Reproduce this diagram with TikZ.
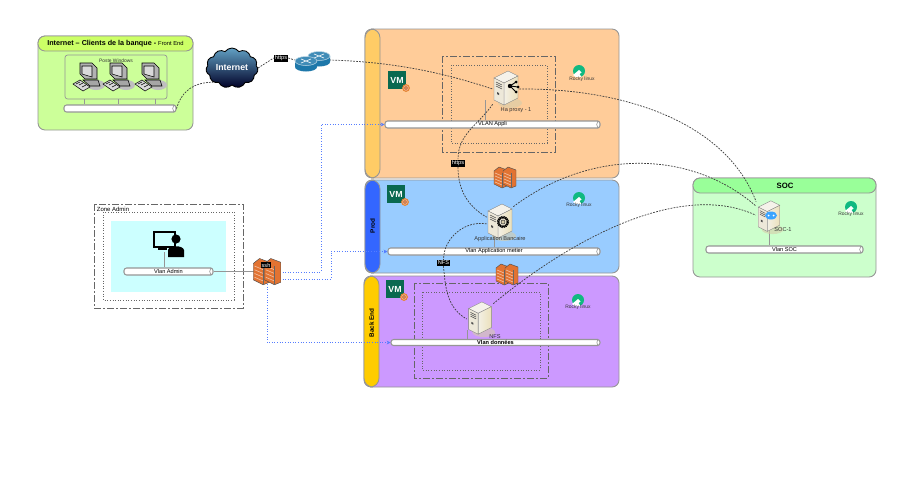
\documentclass[tikz,border=0pt]{standalone}
\usepackage{fontspec}
\setmainfont{Liberation Sans}
\usetikzlibrary{arrows.meta,positioning,shapes.symbols,shapes.geometric}
\definecolor{dkgray}{RGB}{60,60,60}
\definecolor{edgegray}{RGB}{150,150,150}
\definecolor{orangebg}{RGB}{255,204,153}
\definecolor{orangeband}{RGB}{255,204,102}
\definecolor{bluebg}{RGB}{153,204,255}
\definecolor{blueband}{RGB}{51,102,255}
\definecolor{violetbg}{RGB}{204,153,255}
\definecolor{yellowband}{RGB}{255,204,0}
\definecolor{limebg}{RGB}{204,255,153}
\definecolor{limehead}{RGB}{204,255,102}
\definecolor{socbg}{RGB}{204,255,204}
\definecolor{sochead}{RGB}{153,255,153}
\definecolor{adminbg}{RGB}{204,255,255}
\definecolor{vmgreen}{RGB}{10,105,80}
\definecolor{rockygreen}{RGB}{16,185,129}
\definecolor{brick}{RGB}{226,115,50}
\definecolor{linkblue}{RGB}{85,125,255}
\definecolor{routerblue}{RGB}{30,120,170}
\definecolor{boxtan}{RGB}{214,204,170}
\def\ux{0.02cm}
\tikzset{
  zonebox/.style={draw=edgegray, line width=0.5pt, rounded corners=4pt},
  vlanbar/.style={draw=edgegray, fill=white, line width=0.6pt, rounded corners=1.5pt, inner sep=0pt,
    minimum height=7*\ux, font=\fontsize{3.2}{3.6}\selectfont},
  iconbox/.style={inner sep=0pt, minimum width=26*\ux, minimum height=30*\ux},
  smalltxt/.style={inner sep=0pt, font=\fontsize{3.2}{3.6}\selectfont, text=black!80},
  portlabel/.style={fill=black, text=white, inner sep=0.5pt, font=\fontsize{3.2}{3.6}\selectfont},
  vpnlink/.style={dkgray, line width=0.4pt, dash pattern=on 1pt off 0.7pt},
  bluelink/.style={linkblue, line width=0.5pt, densely dotted},
  taplink/.style={edgegray, line width=0.5pt},
  outerframe/.style={draw=black!60, line width=0.5pt, dash pattern=on 4pt off 1.2pt on 1pt off 1.2pt},
  innerframe/.style={draw=black!60, line width=0.5pt, densely dotted},
  pics/srvbox/.style={code={
    \fill[boxtan, opacity=0.6] (4,14) ellipse (12 and 5);
    \draw[black!50, line width=0.2pt, fill=boxtan!25] (-12,-11) -- (2,-18) -- (12,-13) -- (-2,-6) -- cycle;
    \draw[black!50, line width=0.2pt, left color=boxtan!30, right color=boxtan!110!black] (-2,-6) -- (12,-13) -- (12,9) -- (-2,16) -- cycle;
    \draw[black!50, line width=0.2pt, fill=boxtan!45] (-12,-11) -- (-2,-6) -- (-2,16) -- (-12,11) -- cycle;
    \draw[black!70, line width=0.3pt] (-10,-7) -- (-4,-4) (-10,-5) -- (-4,-2) (-10,-3) -- (-4,0);
    \fill[black!70] (-9,3) -- (-7,4) -- (-7,6) -- (-9,5) -- cycle;
  }},
  pics/pcset/.style={code={
    \fill[black!25] (8,8) ellipse (9 and 5);
    \draw[black, line width=0.3pt, fill=black!30] (-8,-14) -- (4,-14) -- (9,-9) -- (9,2) -- (-3,2) -- (-8,-3) -- cycle;
    \draw[black, line width=0.3pt, fill=white!85!black] (-6,-11) -- (4,-11) -- (4,0) -- (-6,-3) -- cycle;
    \draw[black, line width=0.3pt, fill=black!35] (-5,3) -- (10,3) -- (12,9) -- (2,9) -- cycle;
    \draw[black, line width=0.3pt, fill=black!15] (-15,7) -- (-8,3) -- (2,10) -- (-5,14) -- cycle;
    \draw[black, line width=0.35pt] (-12,7) -- (-8,5) (-9,8) -- (-5,6) (-6,10) -- (-2,8);
  }},
  pics/fwall/.style={code={
    \foreach \sx in {0,9}{
      \begin{scope}[shift={(\sx,0)}]
      \draw[black!70, line width=0.25pt, fill=brick] (-11,-6) -- (-6,-10) -- (2,-7) -- (2,9) -- (-3,11) -- (-11,7) -- cycle;
      \foreach \ly in {-3,0,3,6}{
        \draw[brick!45!white, line width=0.35pt] (-10,\ly-1) -- (-3,\ly+2);
      }
      \draw[black!60, line width=0.2pt] (-3,-4) -- (-3,11);
      \end{scope}
    }
  }},
  pics/vmbadge/.style={code={
    \fill[vmgreen] (-9,-9) rectangle (9,9);
    \node[inner sep=0pt, text=white, font=\fontsize{5}{6}\bfseries\selectfont] at (0,0) {VM};
    \draw[brick!90!yellow, fill=brick!60, line width=0.5pt] (9,8) circle (3.4);
    \draw[brick!80!black, line width=0.3pt] (9,8) circle (1.4);
  }},
  pics/rockylogo/.style={code={
    \fill[rockygreen] (0,0) circle (6);
    \fill[white] (-6,4) -- (0,-1) -- (2.5,1.5) -- (0.5,3) -- (2.5,6.2) -- (-3,6.2) -- cycle;
  }},
  pics/routerpair/.style={code={
    \foreach \rx/\ry in {7/-4,-6/1}{
      \fill[routerblue] (\rx-11,\ry) -- (\rx-11,\ry+6) arc[start angle=180, end angle=0, x radius=11, y radius=4.5] -- (\rx+11,\ry) -- cycle;
      \draw[white!70!routerblue, line width=0.3pt, fill=routerblue!85] (\rx,\ry) ellipse (11 and 4.5);
      \draw[white, line width=0.35pt] (\rx-5,\ry-2) -- (\rx+5,\ry+2) (\rx-5,\ry+2) -- (\rx+5,\ry-2);
    }
  }},
}
\begin{document}
\begin{tikzpicture}[x=\ux, y=-\ux]
\useasboundingbox (0,0) rectangle (901,501);
\fill[white] (0,0) rectangle (901,501);

% Front end box
\draw[zonebox, fill=limebg] (38,36) rectangle (193,130);
\draw[zonebox, fill=limehead] (38,51) -- (38,36) -- (193,36) -- (193,51) -- cycle;
\node[inner sep=0pt, font=\fontsize{4.1}{5}\bfseries\selectfont] (ttlfront) at (115.5,43.5)
      {Internet -- Clients de la banque - {\fontsize{3.3}{4}\mdseries\selectfont Front End}};
\draw[draw=edgegray, line width=0.4pt, rounded corners=1.5pt] (65,55) rectangle (167,99);
\node[smalltxt, font=\fontsize{2.8}{3}\selectfont] (ttlposte) at (116,60.5) {Poste Windows};
\node[vlanbar, minimum width=112*\ux] (barfront) at (120,108.5) {};

% Orange zone
\draw[zonebox, fill=orangebg] (365,29) rectangle (619,178);
\draw[zonebox, fill=orangeband, rounded corners=5pt] (365,29) rectangle (380,178);
\draw[outerframe] (442,56) rectangle (555,152);
\draw[innerframe] (451,65) rectangle (547,143);

% Blue zone
\draw[zonebox, fill=bluebg] (365,180) rectangle (619,273);
\draw[zonebox, fill=blueband, rounded corners=5pt] (365,180) rectangle (380,273);
\node[rotate=90, inner sep=0pt, font=\fontsize{3.6}{4}\bfseries\selectfont] (ttlprod) at (372.5,226) {Prod};

% Violet zone
\draw[zonebox, fill=violetbg] (364,276) rectangle (619,387);
\draw[zonebox, fill=yellowband, rounded corners=5pt] (364,276) rectangle (379,387);
\node[rotate=90, inner sep=0pt, font=\fontsize{3.6}{4}\bfseries\selectfont] (ttlback) at (371.5,323) {Back End};
\draw[outerframe] (414,283) rectangle (548,378);
\draw[innerframe] (422,292) rectangle (540,370);

% Admin zone
\draw[outerframe] (94,204) rectangle (243,308);
\draw[innerframe] (103,212) rectangle (234,300);
\fill[adminbg] (111,221) rectangle (226,292);
\node[smalltxt, text=black, font=\fontsize{3.4}{4}\selectfont] (ttladmin) at (113,209) {Zone Admin};

% SOC zone
\draw[zonebox, fill=socbg] (693,178) rectangle (876,277);
\draw[zonebox, fill=sochead] (693,193) -- (693,178) -- (876,178) -- (876,193) -- cycle;
\node[inner sep=0pt, font=\fontsize{4.4}{5}\bfseries\selectfont] (ttlsoc) at (785,185.5) {SOC};

% Bars
\node[vlanbar, minimum width=215*\ux] (barappli) at (492.5,124.5) {VLAN Appli};
\node[vlanbar, minimum width=212*\ux] (barmetier) at (494,251.5) {Vlan Application metier};
\node[vlanbar, minimum width=209*\ux, minimum height=6*\ux, font=\fontsize{3.2}{3.6}\bfseries\selectfont] (bardata) at (495.5,342.5) {Vlan données};
\node[vlanbar, minimum width=89*\ux] (baradmin) at (168.5,271.5) {Vlan Admin};
\node[vlanbar, minimum width=157*\ux] (barsoc) at (784.5,249.5) {Vlan SOC};
\foreach \barname in {barfront,barappli,barmetier,bardata,baradmin,barsoc}{
  \draw[edgegray, line width=0.35pt] ([xshift=-2.5*\ux]\barname.north east) to[bend right=35] ([xshift=-2.5*\ux]\barname.south east);
}

% Icon places
\node[iconbox] (pc1) at (88,77) {};
\node[iconbox] (pc2) at (118,77) {};
\node[iconbox] (pc3) at (150,77) {};
\node[iconbox] (haproxy) at (506,89) {};
\node[iconbox] (appsrv) at (500,222) {};
\node[iconbox] (nfssrv) at (480,319) {};
\node[iconbox] (socsrv) at (769,217) {};
\node[iconbox] (fwadmin) at (267,271) {};
\node[iconbox, minimum width=24*\ux, minimum height=20*\ux] (fwprod) at (505,177) {};
\node[iconbox, minimum width=24*\ux, minimum height=20*\ux] (fwback) at (507,274) {};
\node[iconbox, minimum width=34*\ux, minimum height=14*\ux] (router) at (312,60) {};
\node[cloud, cloud puffs=11, cloud puff arc=110, aspect=1.5, draw=black, line width=0.5pt,
      top color=routerblue!70!white, bottom color=black!85!blue, text=white,
      minimum width=52*\ux, minimum height=40*\ux, inner sep=0pt, font=\fontsize{5}{6}\bfseries\selectfont]
      (internet) at (232,68) {Internet};
\node[iconbox] (adminpost) at (169,245) {};

% Tap coordinates
\coordinate (tappc1) at (84,99);
\coordinate (tappc2) at (118,99);
\coordinate (tappc3) at (155,99);
\coordinate (tapha) at (485,100);
\coordinate (tapapp) at (494,236);
\coordinate (tapnfs) at (467,330);
\coordinate (tapadm) at (164,252);
\coordinate (tapsoc) at (769,230);

% Bar taps
\draw[taplink] (tappc1) -- (tappc1 |- barfront.north);
\draw[taplink] (tappc2) -- (tappc2 |- barfront.north);
\draw[taplink] (tappc3) -- (tappc3 |- barfront.north);
\draw[taplink] (tapha) -- (tapha |- barappli.north);
\draw[taplink] (tapapp) -- (tapapp |- barmetier.north);
\draw[taplink] (tapnfs) -- (tapnfs |- bardata.north);
\draw[taplink] (tapadm) -- (tapadm |- baradmin.north);
\draw[taplink] (tapsoc) -- (tapsoc |- barsoc.north);
\draw[taplink] (baradmin.east) -- (fwadmin.west |- baradmin.east);

% Blue links
\coordinate (fwouta) at (272,272);
\coordinate (fwoutb) at (272,279);
\coordinate (fwoutc) at (267,284);
\draw[bluelink, -{Stealth[length=2.2pt,width=2.2pt]}] (fwouta) -- (321,272) -- (321,124.5) -- (barappli.west);
\draw[bluelink, -{Stealth[length=2.2pt,width=2.2pt]}] (fwoutb) -- (331,279) -- (331,251.5) -- (barmetier.west);
\draw[bluelink, -{Stealth[length=2.2pt,width=2.2pt]}] (fwoutc) -- (267,342.5) -- (bardata.west);

% Port labels
\node[portlabel] (lblweb) at (281,58) {https};
\node[portlabel] (lblapp) at (458,163) {https};
\node[portlabel] (lblnfs) at (443.5,263) {NFS};

% Dotted links
\draw[vpnlink] (barfront.east) .. controls (182,90) and (195,82) .. (internet.south west);
\draw[vpnlink] (internet.east) -- (lblweb.west);
\draw[vpnlink] (lblweb.east) -- (router.west);
\draw[vpnlink] (router.east) .. controls (400,62) and (450,75) .. (haproxy.west);
\draw[vpnlink] (haproxy.east) .. controls (620,88) and (725,120) .. (socsrv.130);
\draw[vpnlink] (haproxy.south west) to[out=-125, in=90] (lblapp.north);
\draw[vpnlink] (lblapp.south) to[out=-90, in=150] (appsrv.160);
\draw[vpnlink] (appsrv.188) to[out=170, in=90] (lblnfs.north);
\draw[vpnlink] (lblnfs.south) to[out=-85, in=150] (nfssrv.west);
\draw[vpnlink] (appsrv.north east) .. controls (590,149) and (690,149) .. (socsrv.140);
\draw[vpnlink] (nfssrv.north east) .. controls (570,240) and (680,180) .. (socsrv.172);

% Icons
\pic at (pc1) {pcset};
\pic at (pc2) {pcset};
\pic at (pc3) {pcset};
\pic at (haproxy) {srvbox};
\pic at (appsrv) {srvbox};
\pic[scale=0.95] at (nfssrv) {srvbox};
\pic[scale=0.9] at (socsrv) {srvbox};
\pic[scale=1.25] at (fwadmin) {fwall};
\pic at (fwprod) {fwall};
\pic at (fwback) {fwall};
\pic at (router) {routerpair};
\pic at (397,80) {vmbadge};
\pic at (396,194) {vmbadge};
\pic at (395,289) {vmbadge};
\pic at (579,71) {rockylogo};
\pic at (579,198) {rockylogo};
\pic at (578,300) {rockylogo};
\pic at (851,207) {rockylogo};

% Icon glyphs
\fill[black] (510,86) circle (2.2) (516,82) circle (1.5) (518,87) circle (1.5) (516,92) circle (1.5);
\draw[black, line width=0.5pt] (510,86) -- (516,82) (510,86) -- (518,87) (510,86) -- (516,92);
\draw[black, line width=1.4pt, dash pattern=on 0.8pt off 0.3pt] (503,222) circle (5);
\draw[black!80, fill=boxtan, line width=0.3pt] (503,222) circle (2);
\fill[linkblue!70!cyan] (771,215.5) ellipse (6 and 4);
\fill[white] (768.5,215.5) circle (1) (773.5,215.5) circle (1);

% Admin post
\draw[black, line width=0.9pt, fill=adminbg] (154,232) rectangle (175,247);
\fill[black] (158,247) rectangle (167,250);
\fill[black] (176,239) circle (4.6);
\fill[black] (168,257) -- (168,250) .. controls (169,245) and (183,245) .. (184,250) -- (184,257) -- cycle;

% Names
\node[smalltxt] (ttlha) at (516,110) {Ha proxy - 1};
\node[smalltxt] (ttlapp) at (500,239) {Application Bancaire};
\node[smalltxt] (ttlnfs) at (495,337) {NFS};
\node[smalltxt] (ttlsocsrv) at (783,230) {SOC-1};
\node[smalltxt, font=\fontsize{2.8}{3}\selectfont] (ttlro) at (582,79) {Rocky linux};
\node[smalltxt, font=\fontsize{2.8}{3}\selectfont] (ttlrb) at (579,205) {Rocky linux};
\node[smalltxt, font=\fontsize{2.8}{3}\selectfont] (ttlrv) at (578,307) {Rocky linux};
\node[smalltxt, font=\fontsize{2.8}{3}\selectfont] (ttlrs) at (851,214.5) {Rocky linux};
\node[portlabel] (lblssh) at (266,265) {ssh};
\end{tikzpicture}
\end{document}
